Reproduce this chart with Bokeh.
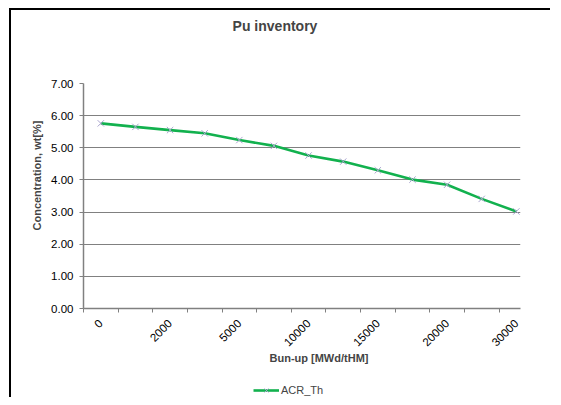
import math
from bokeh.plotting import figure
from bokeh.layouts import column
from bokeh.models import Range1d, FixedTicker, Title, Legend, LegendItem, Label
from bokeh.embed import file_html
from bokeh.resources import INLINE

title_text = "Pu inventory"
x_title = "Bun-up [MWd/tHM]"
y_title = "Concentration, wt[%]"
series_name = "ACR_Th"
tick_labels = ["0", "2000", "5000", "10000", "15000", "20000", "30000"]
pu_conc = [5.76, 5.65, 5.55, 5.45, 5.24, 5.06, 4.76, 4.57, 4.30, 4.01, 3.85, 3.41, 3.02]
y_ticks = [0, 1, 2, 3, 4, 5, 6, 7]

FONT = "Liberation Sans"
LINE_COLOR = "#12b14e"
MARK_COLOR = "#aaa4cf"
W = 553
idx = list(range(len(pu_conc)))
xr = Range1d(-0.5, len(pu_conc) - 0.88)

# title strip
tt = figure(width=W, height=40, output_backend="svg", toolbar_location=None, title=None,
            x_axis_type=None, y_axis_type=None, x_range=xr, y_range=Range1d(0, 40),
            min_border=0, outline_line_color=None, background_fill_alpha=0, border_fill_alpha=0)
tt.xgrid.visible = False
tt.ygrid.visible = False
tt.add_layout(Label(x=5.03, y=15, text=title_text, text_font=FONT, text_font_size="14px",
                    text_font_style="bold", text_align="center", text_baseline="middle"))

p = figure(width=W, height=330, output_backend="svg", toolbar_location=None, title=None,
           x_range=xr, y_range=Range1d(0, 7),
           min_border_left=83, min_border_top=43, min_border_right=W - 520, min_border_bottom=62,
           outline_line_color=None, background_fill_color="white", border_fill_alpha=0)

p.line(idx, pu_conc, line_color=LINE_COLOR, line_width=2.6)
p.scatter(idx, pu_conc, marker="x", size=9, line_color=MARK_COLOR, line_width=1)

# x axis: labels on every other category, ticks between categories
lab_pos = list(range(0, len(pu_conc), 2))
p.xaxis.ticker = FixedTicker(ticks=lab_pos, minor_ticks=[i - 0.5 for i in range(len(pu_conc))])
p.xaxis.major_label_overrides = {i: t for i, t in zip(lab_pos, tick_labels)}
p.xaxis.major_tick_out = 0
p.xaxis.major_tick_in = 0
p.xaxis.minor_tick_out = 4
p.xaxis.minor_tick_in = 0
p.xaxis.minor_tick_line_color = "#808080"
p.xaxis.major_label_orientation = math.pi / 4
p.xaxis.major_label_standoff = 9

p.yaxis.ticker = FixedTicker(ticks=y_ticks)
p.yaxis.major_label_overrides = {v: f"{v:.2f}" for v in y_ticks}
p.yaxis.major_tick_out = 4
p.yaxis.major_tick_in = 0
p.yaxis.minor_tick_out = 0
p.yaxis.minor_tick_in = 0
p.yaxis.major_label_standoff = 6

for ax in (p.xaxis, p.yaxis):
    ax.axis_line_color = "#808080"
    ax.axis_line_width = 1.5
    ax.major_tick_line_color = "#808080"
    ax.major_label_text_font = FONT
    ax.major_label_text_font_size = "11.5px"
    ax.major_label_text_color = "black"

p.xgrid.visible = False
p.ygrid.ticker = FixedTicker(ticks=y_ticks)
p.ygrid.grid_line_color = "#808080"
p.ygrid.grid_line_width = 1

p.add_layout(Title(text=x_title, align="left", offset=186, text_font=FONT, text_font_size="11px",
                   text_font_style="bold", standoff=-6), "below")
p.add_layout(Title(text=y_title, align="left", offset=78, text_font=FONT, text_font_size="11px",
                   text_font_style="bold", standoff=11), "left")

# legend strip below the chart (its series sits outside the strip's visible range)
lg = figure(width=W, height=27, output_backend="svg", toolbar_location=None, title=None,
            x_axis_type=None, y_axis_type=None, x_range=xr, y_range=Range1d(-2, -1),
            min_border=0, outline_line_color=None, background_fill_alpha=0, border_fill_alpha=0)
lg.xgrid.visible = False
lg.ygrid.visible = False
l_line = lg.line(idx, pu_conc, line_color=LINE_COLOR, line_width=2.6)
l_pts = lg.scatter(idx, pu_conc, marker="x", size=9, line_color=MARK_COLOR, line_width=1)
legend = Legend(items=[LegendItem(label=series_name, renderers=[l_line, l_pts])],
                location=(170, 0), padding=0, margin=0, border_line_color=None,
                background_fill_alpha=0, glyph_width=26, glyph_height=14, label_height=14,
                label_standoff=2, label_text_font=FONT, label_text_font_size="11px")
lg.add_layout(legend, "center")

frame_lines = ("linear-gradient(black, black) 9px 8px / 2px 100% no-repeat, "
               "linear-gradient(black, black) 9px 8px / 100% 2px no-repeat")
root = column(tt, p, lg, spacing=0,
              styles={"background": frame_lines, "clip-path": "inset(0px 3px 0px 0px)"})

open("out.html", "w").write(file_html(root, INLINE))
